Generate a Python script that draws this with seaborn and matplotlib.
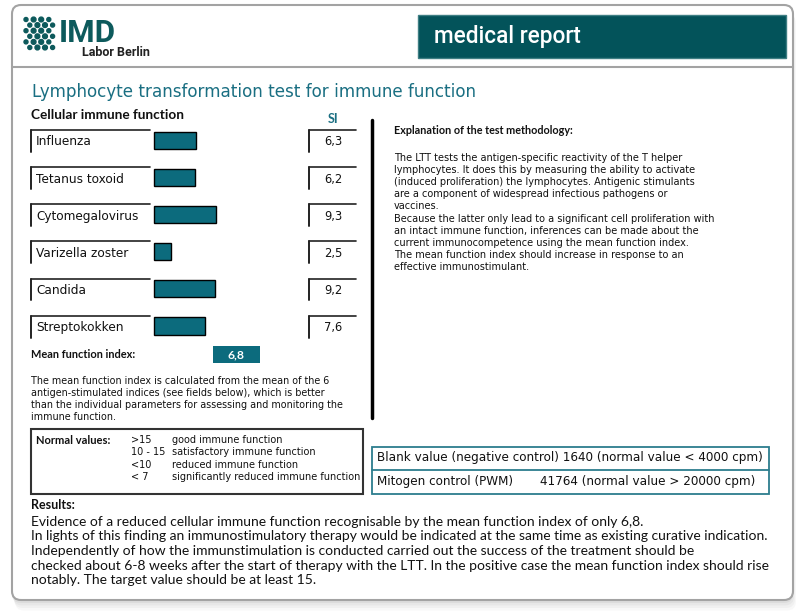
"""
Immune function report (LTT) rebuilt as a single headless figure.
Page laid out in pixel coordinates, antigen bars drawn with seaborn.
"""
import matplotlib
matplotlib.use("Agg")
import matplotlib.pyplot as plt
import matplotlib.transforms as mtransforms
from matplotlib.patches import Rectangle, FancyBboxPatch, Circle
import pandas as pd
import seaborn as sns

# ---- data -----------------------------------------------------------------
antigens = ["Influenza", "Tetanus toxoid", "Cytomegalovirus",
            "Varizella zoster", "Candida", "Streptokokken"]
si_values = [6.3, 6.2, 9.3, 2.5, 9.2, 7.6]
mean_index = 6.8

normal_ranges = [">15", "10 - 15", "<10", "< 7"]
normal_meaning = ["good immune function", "satisfactory immune function",
                  "reduced immune function",
                  "significantly reduced immune function"]

blank_value = 1640
blank_limit = 4000
mitogen_value = 41764
mitogen_limit = 20000

title = "Lymphocyte transformation test for immune function"
mean_note = ["The mean function index is calculated from the mean of the 6",
             "antigen-stimulated indices (see fields below), which is better",
             "than the individual parameters for assessing and monitoring the",
             "immune function."]
method_title = "Explanation of the test methodology:"
method_text = ["The LTT tests the antigen-specific reactivity of the T helper",
               "lymphocytes. It does this by measuring the ability to activate",
               "(induced proliferation) the lymphocytes. Antigenic stimulants",
               "are a component of widespread infectious pathogens or",
               "vaccines.",
               "Because the latter only lead to a significant cell proliferation with",
               "an intact immune function, inferences can be made about the",
               "current immunocompetence using the mean function index.",
               "The mean function index should increase in response to an",
               "effective immunostimulant."]
results_text = ["Evidence of a reduced cellular immune function recognisable by the mean function index of only 6,8.",
                "In lights of this finding an immunostimulatory therapy would be indicated at the same time as existing curative indication.",
                "Independently of how the immunstimulation is conducted carried out the success of the treatment should be",
                "checked about 6-8 weeks after the start of therapy with the LTT. In the positive case the mean function index should rise",
                "notably. The target value should be at least 15."]

TEAL = "#0c6b7d"
TITLE_TEAL = "#1a6f82"
DARK_TEAL = "#03535a"
LOGO = "#0d5a5c"
GREY = "#a3a3a3"
INK = "#111111"
BOLD_FONT = ["Lato", "DejaVu Sans"]
NARROW = ["Lato", "DejaVu Sans"]


def de(v):
    return f"{v:.1f}".replace(".", ",")


sns.set_theme(style="white")
plt.rcParams["font.family"] = ["DejaVu Sans"]

W, H = 800, 611
fig = plt.figure(figsize=(W / 100, H / 100), dpi=100, facecolor="white")
ax = fig.add_axes([0, 0, 1, 1])
ax.set_xlim(0, W)
ax.set_ylim(H, 0)
ax.axis("off")
renderer = fig.canvas.get_renderer()


def fit(s, width, **kw):
    # font size that makes string s about `width` pixels wide
    t = ax.text(0, 0, s, fontsize=10, **kw)
    w = t.get_window_extent(renderer).width
    t.remove()
    return 10.0 * width / w


# ---- page frame -------------------------------------------------------------
for i, a in enumerate([0.07, 0.06, 0.05, 0.04]):
    ax.add_patch(FancyBboxPatch((12 + i, 7 + 2.5 * i), 781, 596, alpha=a,
                                boxstyle="round,pad=0,rounding_size=9",
                                fc="#606060", ec="none", zorder=0))
ax.add_patch(FancyBboxPatch((12, 5), 781, 595, boxstyle="round,pad=0,rounding_size=9",
                            fc="white", ec=GREY, lw=1.5, zorder=1))
ax.plot([12, 793], [66.5, 66.5], color=GREY, lw=1.5, zorder=2)

# logo
for r in range(6):
    xs = [26, 33.6, 41.2, 48.8] if r % 2 == 0 else [29.8, 37.4, 45, 52.6]
    for k, x in enumerate(xs):
        rad = 2.0 if k in (0, 3) else 2.4
        ax.add_patch(Circle((x, 19.5 + r * 5.6), rad, color=LOGO, zorder=3))
fs = fit("IMD", 57, family="Roboto", weight="bold")
ax.text(59, 33, "IMD", fontsize=fs, family="Roboto", weight="bold",
        color=LOGO, va="center", zorder=3)
fs = fit("Labor Berlin", 68, family="Roboto", weight="bold")
ax.text(82, 53, "Labor Berlin", fontsize=fs, family="Roboto", weight="bold",
        color="#222222", va="center", zorder=3)

ax.add_patch(Rectangle((418, 15), 368, 43, fc=DARK_TEAL, ec="#3f7f84", lw=1, zorder=3))
fs = fit("medical report", 147, family="Roboto", weight="medium")
ax.text(434, 37, "medical report", fontsize=fs, family="Roboto", weight="medium",
        color="white", va="center", zorder=4)

# ---- title and antigen table ------------------------------------------------
fs = fit(title, 444)
ax.text(32, 92, title, fontsize=fs, color=TITLE_TEAL, va="center", zorder=3)
fs = fit("Cellular immune function", 153, family=BOLD_FONT, weight="bold")
ax.text(31, 115, "Cellular immune function", fontsize=fs, family=BOLD_FONT,
        weight="bold", color=INK, va="center", zorder=3)
ax.text(333, 119, "SI", fontsize=9, family=BOLD_FONT, weight="bold", color=TITLE_TEAL,
        ha="center", va="center", zorder=3)

top, pitch = 140.5 - 37.1 / 2, 37.1
px_per_si, bar0 = 6.63, 154.3
ax_bar = fig.add_axes([31 / W, (H - top - 6 * pitch) / H, (356 - 31) / W, 6 * pitch / H])
df = pd.DataFrame({"antigen": antigens, "si": si_values})
sns.barplot(data=df, x="si", y="antigen", orient="h", color=TEAL, saturation=1,
            edgecolor="black", linewidth=1, width=0.46, errorbar=None, ax=ax_bar)
ax_bar.set_xlim(-(bar0 - 31) / px_per_si, (356 - bar0) / px_per_si)
ax_bar.set_ylim(len(antigens) - 0.5, -0.5)
ax_bar.axis("off")

blend = mtransforms.blended_transform_factory(ax.transData, ax_bar.transData)
fs_lab = fit("Cytomegalovirus", 103)
for i, (name, v) in enumerate(zip(antigens, si_values)):
    t0, t1 = i - 0.28, i + 0.31
    ax.plot([31, 150], [t0, t0], color="#222222", lw=1.2, transform=blend, zorder=3)
    ax.plot([31, 31], [t0, t1], color="#222222", lw=1.4, transform=blend, zorder=3)
    ax.plot([309, 356], [t0, t0], color="#222222", lw=1.2, transform=blend, zorder=3)
    ax.plot([309, 309], [t0, t1], color="#222222", lw=1.4, transform=blend, zorder=3)
    ax.text(36, i + 0.04, name, fontsize=fs_lab, va="center", color=INK,
            transform=blend, zorder=3)
    ax.text(333, i + 0.04, de(v), fontsize=fs_lab * 0.95, va="center", ha="center",
            color=INK, transform=blend, zorder=3)

# mean function index
fs = fit("Mean function index:", 104, family=BOLD_FONT, weight="bold")
ax.text(31, 355, "Mean function index:", fontsize=fs, family=BOLD_FONT, weight="bold",
        color=INK, va="center", zorder=3)
ax.add_patch(Rectangle((213, 346), 47, 17, fc=TEAL, ec="none", zorder=3))
fs = fit("6,8", 17, family=BOLD_FONT, weight="bold")
ax.text(236.5, 354.5, de(mean_index), fontsize=fs, family=BOLD_FONT, weight="bold",
        color="white", ha="center", va="center", zorder=4)

fs = fit(mean_note[2], 312)
for k, line in enumerate(mean_note):
    ax.text(31, 381 + 12 * k, line, fontsize=fs, color=INK, va="center", zorder=3)

# separator
ax.plot([372, 372], [120, 418], color="black", lw=2.5, zorder=3)

# ---- explanation ------------------------------------------------------------
fs = fit(method_title, 178, family=BOLD_FONT, weight="bold")
ax.text(394, 131, method_title, fontsize=fs, family=BOLD_FONT, weight="bold",
        color=INK, va="center", zorder=3)
fs = fit(method_text[5], 318)
for k, line in enumerate(method_text):
    ax.text(394, 158 + 12.1 * k, line, fontsize=fs, color=INK, va="center", zorder=3)

# ---- normal values ----------------------------------------------------------
ax.add_patch(Rectangle((31, 429), 331.5, 65, fc="none", ec="#333333", lw=1.5, zorder=3))
fs = fit("Normal values:", 74, family=BOLD_FONT, weight="bold")
ax.text(36, 440, "Normal values:", fontsize=fs, family=BOLD_FONT, weight="bold",
        color=INK, va="center", zorder=3)
fs = fit(normal_meaning[3], 188)
for k, (rng, txt) in enumerate(zip(normal_ranges, normal_meaning)):
    y = 440 + 12.4 * k
    ax.text(131, y, rng, fontsize=fs, color=INK, va="center", zorder=3)
    ax.text(172, y, txt, fontsize=fs, color=INK, va="center", zorder=3)

# ---- controls ---------------------------------------------------------------
ax.add_patch(Rectangle((372, 446.5), 397, 47.5, fc="none", ec="#2c7d8e", lw=1.3, zorder=3))
ax.plot([372, 769], [469.5, 469.5], color="#2c7d8e", lw=1.3, zorder=3)
blank_line = f"Blank value (negative control) {blank_value} (normal value < {blank_limit} cpm)"
fs = fit(blank_line, 385)
ax.text(377, 458, blank_line, fontsize=fs, color=INK, va="center", zorder=3)
ax.text(377, 482, "Mitogen control (PWM)", fontsize=fs, color=INK,
        va="center", zorder=3)
ax.text(540, 482, f"{mitogen_value} (normal value > {mitogen_limit} cpm)", fontsize=fs,
        color=INK, va="center", zorder=3)

# ---- results ----------------------------------------------------------------
fs = fit("Results:", 44, family=NARROW, weight="bold")
ax.text(31, 505, "Results:", fontsize=fs, family=NARROW, weight="bold",
        color=INK, va="center", zorder=3)
fs = min(fit(results_text[1], 740, family=NARROW),
         fit(results_text[3], 738, family=NARROW))
for k, line in enumerate(results_text):
    ax.text(31, 521.5 + 14.7 * k, line, fontsize=fs, family=NARROW,
            color=INK, va="center", zorder=3)

fig.savefig("out.png", dpi=100, facecolor="white")
plt.close(fig)
